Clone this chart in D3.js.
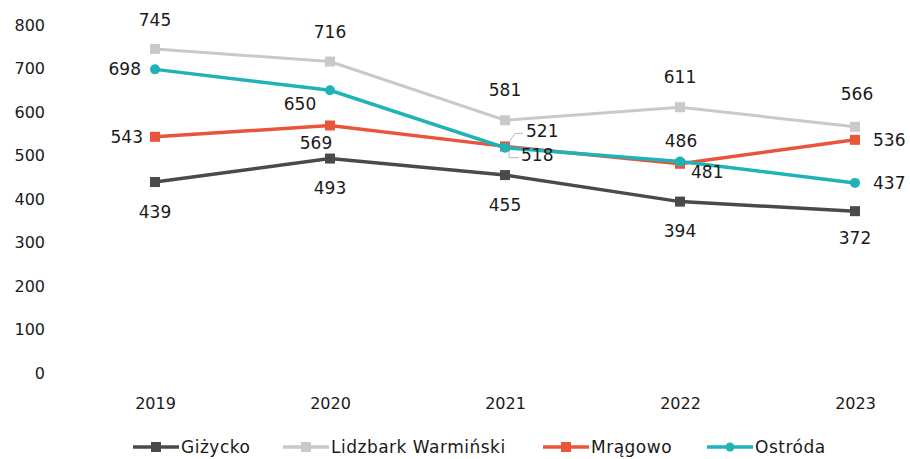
<!DOCTYPE html>
<html>
<head>
<meta charset="utf-8">
<script src="https://cdn.jsdelivr.net/npm/d3@7"></script>
<style>
  body { margin: 0; background: #fff; }
  svg text { font-family: "DejaVu Sans", sans-serif; fill: #1a1a1a; }
</style>
</head>
<body>
<div id="chart"></div>
<script>
var years = ["2019", "2020", "2021", "2022", "2023"];
var seriesNames = ["Giżycko", "Lidzbark Warmiński", "Mrągowo", "Ostróda"];
var gizycko = [439, 493, 455, 394, 372];
var lidzbark = [745, 716, 581, 611, 566];
var mragowo = [543, 569, 521, 481, 536];
var ostroda = [698, 650, 518, 486, 437];
var yTicks = [0, 100, 200, 300, 400, 500, 600, 700, 800];

var colors = ["#4a4a4a", "#c9c9c9", "#e8553a", "#1fb3b8"];
var markers = ["square", "square", "square", "circle"];

// label placement per series/point: [dx, dy, anchor]
var labelPlace = [
  [[0, 36, "middle"], [0, 35, "middle"], [0, 36, "middle"], [0, 35, "middle"], [0, 33, "middle"]],
  [[0, -23, "middle"], [0, -24, "middle"], [0, -24, "middle"], [0, -24, "middle"], [2, -27, "middle"]],
  [[-12, 6, "end"], [-14, 24, "middle"], [21, -9, "start"], [11, 14, "start"], [18, 6, "start"]],
  [[-14, 6, "end"], [-30, 20, "middle"], [16, 13, "start"], [1, -15, "middle"], [18, 6, "start"]]
];

var data = seriesNames.map(function(name, i) {
  var vals = [gizycko, lidzbark, mragowo, ostroda][i];
  return {
    name: name, color: colors[i], marker: markers[i], idx: i,
    values: years.map(function(y, j) { return {year: y, value: vals[j], j: j}; })
  };
});

var width = 910, height = 459;
var svg = d3.select("#chart").append("svg")
  .attr("width", width).attr("height", height);

var x = d3.scalePoint().domain(years).range([155, 855]);
var y = d3.scaleLinear().domain([0, 800]).range([373, 25]);

// y axis labels
var yAxis = d3.axisLeft(y).tickValues(yTicks).tickSize(0).tickPadding(0);
svg.append("g")
  .attr("transform", "translate(45,0)")
  .call(yAxis)
  .call(function(g) {
    g.select(".domain").remove();
    g.selectAll("text").style("font-size", "16px")
      .style("font-family", "'DejaVu Sans', sans-serif").attr("fill", "#1a1a1a");
  });

// x axis labels
var xAxis = d3.axisBottom(x).tickSize(0).tickPadding(0);
svg.append("g")
  .attr("transform", "translate(0,398)")
  .call(xAxis)
  .call(function(g) {
    g.select(".domain").remove();
    g.selectAll("text").style("font-size", "16px")
      .style("font-family", "'DejaVu Sans', sans-serif").attr("fill", "#1a1a1a");
  });

var line = d3.line()
  .x(function(d) { return x(d.year); })
  .y(function(d) { return y(d.value); });

// draw series in order: light gray first
var order = [1, 0, 2, 3];
order.forEach(function(i) {
  var s = data[i];
  var g = svg.append("g");
  g.append("path")
    .datum(s.values)
    .attr("d", line)
    .attr("fill", "none")
    .attr("stroke", s.color)
    .attr("stroke-width", i === 1 ? 3 : 3.5);
  if (s.marker === "circle") {
    g.selectAll("circle").data(s.values).enter().append("circle")
      .attr("cx", function(d) { return x(d.year); })
      .attr("cy", function(d) { return y(d.value); })
      .attr("r", 5)
      .attr("fill", s.color);
  } else {
    g.selectAll("rect").data(s.values).enter().append("rect")
      .attr("x", function(d) { return x(d.year) - 5; })
      .attr("y", function(d) { return y(d.value) - 5; })
      .attr("width", 10).attr("height", 10)
      .attr("fill", s.color);
  }
});

// leader lines for the crowded 2021 labels
svg.append("path")
  .attr("d", "M" + (x("2021") + 4) + "," + (y(521) - 4) + "L" + (x("2021") + 10) + "," + (y(521) - 13) + "H" + (x("2021") + 18))
  .attr("fill", "none").attr("stroke", "#bbb").attr("stroke-width", 1);
svg.append("path")
  .attr("d", "M" + (x("2021") + 4) + "," + (y(518) + 4) + "V" + (y(518) + 10) + "H" + (x("2021") + 14))
  .attr("fill", "none").attr("stroke", "#bbb").attr("stroke-width", 1);

// data labels
data.forEach(function(s) {
  svg.append("g").selectAll("text").data(s.values).enter().append("text")
    .attr("x", function(d) { return x(d.year) + labelPlace[s.idx][d.j][0]; })
    .attr("y", function(d) { return y(d.value) + labelPlace[s.idx][d.j][1]; })
    .attr("text-anchor", function(d) { return labelPlace[s.idx][d.j][2]; })
    .style("font-size", "17px")
    .text(function(d) { return d.value; });
});

// legend
var legendX = [133, 283, 543, 707];
var legend = svg.append("g").attr("transform", "translate(0,447)");
data.forEach(function(s, i) {
  var lg = legend.append("g").attr("transform", "translate(" + legendX[i] + ",0)");
  lg.append("line").attr("x1", 0).attr("x2", 46).attr("y1", 0).attr("y2", 0)
    .attr("stroke", s.color).attr("stroke-width", 3.5);
  if (s.marker === "circle") {
    lg.append("circle").attr("cx", 23).attr("cy", 0).attr("r", 4.5).attr("fill", s.color);
  } else {
    lg.append("rect").attr("x", 18).attr("y", -5).attr("width", 10).attr("height", 10).attr("fill", s.color);
  }
  lg.append("text").attr("x", 48).attr("y", 6)
    .style("font-size", "17px")
    .style("letter-spacing", "0.5px")
    .text(s.name);
});
</script>
</body>
</html>
